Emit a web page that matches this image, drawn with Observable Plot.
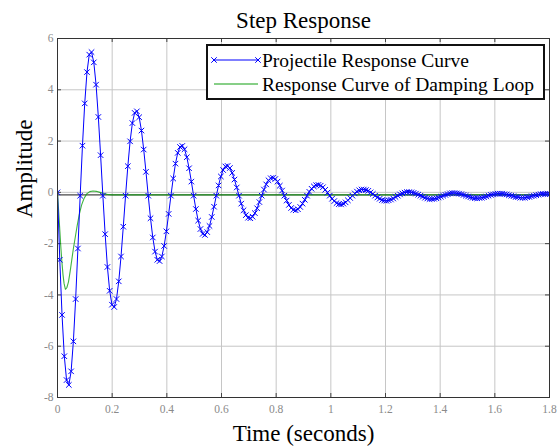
<!DOCTYPE html>
<html>
<head>
<meta charset="utf-8">
<script src="https://cdn.jsdelivr.net/npm/d3@7"></script>
<script src="https://cdn.jsdelivr.net/npm/@observablehq/plot@0.6"></script>
<style>
  html, body { margin: 0; padding: 0; background: #fff; }
  #wrap { position: relative; width: 559px; height: 446px; }
  #wrap svg { display: block; }
  #legend { position: absolute; left: 0; top: 0; pointer-events: none; }
</style>
</head>
<body>
<div id="wrap"></div>
<script>
// ---- data ----
const chartTitle = "Step Response";
const xLabel = "Time (seconds)";
const yLabel = "Amplitude";
const seriesNames = ["Projectile Response Curve", "Response Curve of Damping Loop"];

const sampleStep = 0.0083; // seconds between samples of the projectile curve
const projectileAmp = [
  0, -2.63, -4.78, -6.39, -7.32, -7.51, -6.98, -5.81, -4.16, -2.19,
  -0.13, 1.82, 3.47, 4.69, 5.37, 5.47, 5.07, 4.20, 2.94, 1.45,
  -0.13, -1.63, -2.91, -3.84, -4.38, -4.47, -4.16, -3.47, -2.50, -1.34,
  -0.13, 1.02, 1.99, 2.70, 3.10, 3.16, 2.93, 2.41, 1.67, 0.80,
  -0.13, -1.01, -1.76, -2.31, -2.63, -2.68, -2.50, -2.09, -1.52, -0.84,
  -0.13, 0.54, 1.12, 1.54, 1.77, 1.81, 1.68, 1.37, 0.94, 0.42,
  -0.13, -0.65, -1.10, -1.43, -1.62, -1.66, -1.55, -1.31, -0.96, -0.56,
  -0.13, 0.27, 0.62, 0.87, 1.01, 1.03, 0.95, 0.76, 0.50, 0.19,
  -0.13, -0.44, -0.70, -0.89, -0.99, -1.01, -0.95, -0.81, -0.62, -0.38,
  -0.13, 0.11, 0.31, 0.47, 0.55, 0.57, 0.52, 0.42, 0.26, 0.07,
  -0.13, -0.32, -0.49, -0.61, -0.68, -0.70, -0.66, -0.57, -0.44, -0.29,
  -0.13, 0.02, 0.14, 0.23, 0.28, 0.29, 0.26, 0.20, 0.10, -0.01,
  -0.13, -0.25, -0.34, -0.42, -0.46, -0.47, -0.44, -0.39, -0.31, -0.22,
  -0.13, -0.04, 0.03, 0.08, 0.11, 0.11, 0.09, 0.06, 0.00, -0.06,
  -0.13, -0.20, -0.25, -0.30, -0.32, -0.33, -0.31, -0.28, -0.24, -0.18,
  -0.13, -0.08, -0.04, -0.01, 0.01, 0.01, 0.00, -0.02, -0.05, -0.09,
  -0.13, -0.17, -0.21, -0.24, -0.26, -0.26, -0.25, -0.23, -0.20, -0.17,
  -0.13, -0.10, -0.07, -0.04, -0.03, -0.03, -0.04, -0.05, -0.07, -0.10,
  -0.13, -0.16, -0.19, -0.21, -0.23, -0.23, -0.22, -0.21, -0.19, -0.16,
  -0.13, -0.10, -0.08, -0.06, -0.05, -0.05, -0.05, -0.07, -0.08, -0.11,
  -0.13, -0.15, -0.18, -0.19, -0.21, -0.21, -0.21, -0.19, -0.18, -0.15,
  -0.13, -0.11, -0.09, -0.07, -0.06, -0.06, -0.06, -0.07
];

const dampTime = [0, 0.004, 0.008, 0.012, 0.016, 0.020, 0.024, 0.029, 0.034, 0.040,
  0.046, 0.052, 0.058, 0.065, 0.072, 0.080, 0.088, 0.097, 0.107, 0.118,
  0.130, 0.142, 0.155, 0.168, 0.182, 0.200, 0.250, 1.8];
const dampAmp = [0, -0.7, -1.4, -2.1, -2.7, -3.2, -3.55, -3.78, -3.72, -3.5,
  -3.1, -2.65, -2.2, -1.75, -1.3, -0.85, -0.5, -0.24, -0.06, 0.03,
  0.05, 0.04, 0.0, -0.05, -0.08, -0.1, -0.1, -0.1];

const steadyLevel = -0.1;
const xTicks = [0, 0.2, 0.4, 0.6, 0.8, 1, 1.2, 1.4, 1.6, 1.8];
const yTicks = [-8, -6, -4, -2, 0, 2, 4, 6];

// ---- build tables ----
const projectile = projectileAmp.map((v, i) => ({t: i * sampleStep, v}));
const damping = dampTime.map((t, i) => ({t, v: dampAmp[i]}));

const W = 559, H = 446, mL = 57, mR = 10, mT = 38, mB = 49;
const fw = W - mL - mR, fh = H - mT - mB;
const serif = "Liberation Serif, Times New Roman, serif";
const blue = "#0000ff", green = "#11a011";

const chart = Plot.plot({
  width: W, height: H,
  marginLeft: mL, marginRight: mR, marginTop: mT, marginBottom: mB,
  style: {fontFamily: serif, background: "#fff", overflow: "visible"},
  x: {domain: [0, 1.8]},
  y: {domain: [-8, 6]},
  marks: [
    Plot.gridX(xTicks, {stroke: "#c6c6c6", strokeOpacity: 1}),
    Plot.gridY(yTicks, {stroke: "#c6c6c6", strokeOpacity: 1}),
    Plot.axisX(xTicks, {tickSize: 0, tickPadding: 7, tickFormat: d => String(d), fontSize: 11.5, fontFamily: serif, fill: "#8a8a8a", label: null}),
    Plot.axisY(yTicks, {tickSize: 0, tickPadding: 4, tickFormat: d => String(d), fontSize: 11.5, fontFamily: serif, fill: "#8a8a8a", label: null}),
    Plot.tickX(xTicks, {x: d => d, insetTop: fh - 4, stroke: "#444"}),
    Plot.tickX(xTicks, {x: d => d, insetBottom: fh - 4, stroke: "#444"}),
    Plot.tickY(yTicks, {y: d => d, insetRight: fw - 4, stroke: "#444"}),
    Plot.tickY(yTicks, {y: d => d, insetLeft: fw - 4, stroke: "#444"}),
    Plot.ruleY([steadyLevel], {stroke: "#1a1a1a", strokeWidth: 1}),
    Plot.line(damping, {x: "t", y: "v", stroke: green, strokeOpacity: 0.8, strokeWidth: 1.1, clip: true}),
    Plot.line(projectile, {x: "t", y: "v", stroke: blue, strokeWidth: 1, clip: true}),
    Plot.dot(projectile, {x: "t", y: "v", symbol: "times", r: 2.6, stroke: blue, strokeWidth: 1, clip: true}),
    Plot.frame({stroke: "#333"}),
    Plot.text([chartTitle], {frameAnchor: "top", lineAnchor: "bottom", dy: -11, fontSize: 23, fontFamily: serif, fill: "#000"}),
    Plot.text([xLabel], {frameAnchor: "bottom", lineAnchor: "bottom", dy: 43, fontSize: 23, fontFamily: serif, fill: "#000"}),
    Plot.text([yLabel], {frameAnchor: "left", lineAnchor: "bottom", rotate: -90, dx: -26, fontSize: 23, fontFamily: serif, fill: "#000"})
  ]
});

const wrap = document.getElementById("wrap");
wrap.appendChild(chart);

// ---- legend overlay ----
const lg = d3.select(wrap).append("svg")
  .attr("id", "legend").attr("width", W).attr("height", H);
const box = {x: 207, y: 45, w: 337, h: 54};
lg.append("rect").attr("x", box.x).attr("y", box.y).attr("width", box.w).attr("height", box.h)
  .attr("fill", "#fff").attr("stroke", "#111").attr("stroke-width", 2);
const rows = [
  {name: seriesNames[0], color: blue, markers: true, y: 60},
  {name: seriesNames[1], color: green, markers: false, y: 84}
];
const x1 = 214, x2 = 258;
rows.forEach(r => {
  lg.append("line").attr("x1", x1).attr("x2", x2).attr("y1", r.y).attr("y2", r.y)
    .attr("stroke", r.color).attr("stroke-width", 1.1);
  if (r.markers) {
    const sym = d3.symbol(d3.symbolTimes, 2.6 * 2.6 * Math.PI)();
    [x1, x2].forEach(mx => lg.append("path").attr("d", sym)
      .attr("transform", `translate(${mx},${r.y})`)
      .attr("fill", "none").attr("stroke", r.color).attr("stroke-width", 1));
  }
  lg.append("text").attr("x", 262).attr("y", r.y + 6.5)
    .attr("font-family", serif).attr("font-size", 19.5).attr("fill", "#000")
    .text(r.name);
});
</script>
</body>
</html>
